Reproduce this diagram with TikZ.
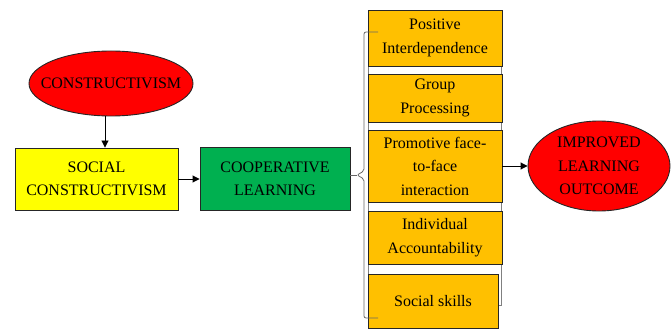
\documentclass[tikz,border=0pt]{standalone}
\usepackage{fontspec}
\setmainfont{Liberation Serif}
\usetikzlibrary{shapes.geometric,arrows.meta}
\definecolor{cred}{HTML}{FF0000}
\definecolor{cyellow}{HTML}{FFFF00}
\definecolor{cgreen}{HTML}{00B050}
\definecolor{corange}{HTML}{FFC000}
\definecolor{cborder}{HTML}{262626}
\begin{document}
\begin{tikzpicture}[x=1pt,y=-1pt,
  every node/.style={font=\fontsize{16}{23.5}\selectfont, align=center, text=black, inner sep=0pt},
  oval/.style={ellipse, draw=cborder, line width=0.9pt, fill=cred, inner xsep=-30pt, inner ysep=-4pt},
  box/.style={rectangle, draw=cborder, line width=0.9pt},
  part/.style={box, fill=corange, minimum width=134pt},
  arrow/.style={-{Triangle[length=7pt,width=7pt]}, line width=0.9pt, draw=black},
  bracket/.style={draw=gray!80!black, line width=0.8pt, rounded corners=2pt}]
\useasboundingbox (0,0) rectangle (671,331);

% left chain
\node[oval, minimum width=164pt, minimum height=65pt] (cons) at (111,83.5) {CONSTRUCTIVISM};
\node[box, fill=cyellow, minimum width=163pt, minimum height=62pt] (social) at (96.5,179) {SOCIAL\\CONSTRUCTIVISM};
\node[box, fill=cgreen, minimum width=150pt, minimum height=63pt] (coop) at (275,179) {COOPERATIVE\\LEARNING};

% backing panel behind the five elements
\draw[gray, fill=white, line width=0.8pt] (368,33) rectangle (501.5,305);

% five elements of cooperative learning
\node[part, minimum height=56pt] (b1) at (435,38) {Positive\\Interdependence};
\node[part, minimum height=48pt] (b2) at (435,98) {Group\\Processing};
\node[part, minimum height=72pt] (b3) at (435,166) {Promotive face-\\to-face\\interaction};
\node[part, minimum height=53pt] (b4) at (435,237.5) {Individual\\Accountability};
\node[part, minimum width=130pt, minimum height=54pt] (b5) at (433,301) {Social skills};

% outcome
\node[oval, minimum width=142pt, minimum height=90pt] (out) at (599,166) {IMPROVED\\LEARNING\\OUTCOME};

% brace grouping the elements
\coordinate (tip) at (357,175);
\draw[bracket] (378,32) -- (364,32) -- (364,171) -- (tip) -- (364,179) -- (364,318) -- (378,318);

% connectors
\draw[arrow] ([xshift=-6pt]cons.south) -- ([xshift=8.5pt]social.north);
\draw[arrow] (social.east) -- (coop.west);
\draw[bracket] (coop.east |- tip) -- (tip);
\draw[arrow] (b3.east) -- (out.west);
\end{tikzpicture}
\end{document}
